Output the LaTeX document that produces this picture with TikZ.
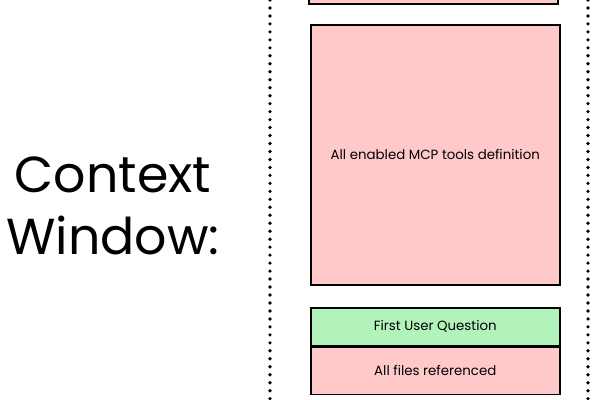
\documentclass[tikz,border=0pt]{standalone}
\usepackage{fontspec}
\setmainfont{Poppins}
\usepackage{tikz}
\usetikzlibrary{positioning}

\definecolor{ctxpink}{HTML}{FFC9C9}
\definecolor{ctxgreen}{HTML}{B2F2BB}

\begin{document}
\begin{tikzpicture}[
        x=0.025cm, y=-0.025cm,
        block/.style={draw, line width=1.1pt, fill=ctxpink, anchor=north west, inner sep=0pt, font=\fontsize{9.5}{11}\selectfont},
        question/.style={block, fill=ctxgreen},
        border/.style={line width=2.6pt, line cap=round, dash pattern=on 0pt off 5.67pt}
    ]
        \useasboundingbox (0,0) rectangle (600,400);

        % Title
        \node (title) [align=center, font=\fontsize{36}{44}\selectfont] at (113,206) {Context\\Window:};

        % Window borders
        \draw [border] (270,0) -- (270,400);
        \draw [border] (588,0) -- (588,400);

        % Context blocks
        \node (prev) [block, minimum width=249*0.025cm, minimum height=40*0.025cm] at (308,-37) {};
        \node (tools) [block, minimum width=249*0.025cm, minimum height=260*0.025cm] at (310,24) {All enabled MCP tools definition};
        \node (ask) [question, minimum width=249*0.025cm, minimum height=38*0.025cm] at (310,307) {First User Question};
        \node (files) [block, minimum width=249*0.025cm, minimum height=47*0.025cm, below=0pt of ask.south west, anchor=north west] {All files referenced};
    \end{tikzpicture}
\end{document}
